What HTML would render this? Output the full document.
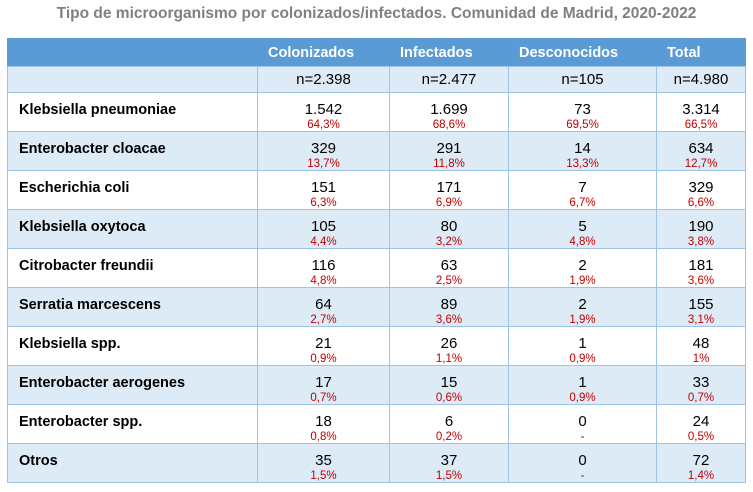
<!DOCTYPE html>
<html><head><meta charset="utf-8"><style>
body{margin:0;width:753px;height:492px;background:#fff;font-family:"Liberation Sans",Arial,sans-serif;position:relative;overflow:hidden}
.title{position:absolute;top:5px;left:0;width:753px;text-align:center;color:#808080;font-weight:bold;font-size:15.5px}
table{position:absolute;left:7px;top:38px;border-collapse:collapse;table-layout:fixed;width:738px}
td{border:1px solid #9dc3e6;padding:0;font-size:15px;color:#000;overflow:hidden}
tr.h td{background:#5b9bd5;color:#fff;font-weight:bold;font-size:14.5px;height:27px;border-color:#5b9bd5;padding-left:10px;border-bottom:1px solid #9dc3e6}
tr.n td{background:#ddebf7;height:25px;text-align:center}
tr.d td{height:38px;vertical-align:top;text-align:center}
tr.d td.nm{text-align:left;font-weight:bold;font-size:14.5px;padding:9px 0 0 11px;height:29px}
tr.a td{background:#ddebf7}
.v{display:block;padding-top:8px;line-height:17px;height:26px;box-sizing:border-box}
.p{display:block;color:#c00000;font-size:11.5px;line-height:12px;height:12px}
</style></head><body>
<div class="title">Tipo de microorganismo por colonizados/infectados. Comunidad de Madrid, 2020-2022</div>
<table>
<colgroup><col style="width:250px"><col style="width:132px"><col style="width:119px"><col style="width:148px"><col style="width:89px"></colgroup>
<tr class="h"><td></td><td>Colonizados</td><td>Infectados</td><td>Desconocidos</td><td>Total</td></tr>
<tr class="n"><td></td><td>n=2.398</td><td>n=2.477</td><td>n=105</td><td>n=4.980</td></tr>
<tr class="d"><td class="nm">Klebsiella pneumoniae</td><td><span class="v">1.542</span><span class="p">64,3%</span></td><td><span class="v">1.699</span><span class="p">68,6%</span></td><td><span class="v">73</span><span class="p">69,5%</span></td><td><span class="v">3.314</span><span class="p">66,5%</span></td></tr>
<tr class="d a"><td class="nm">Enterobacter cloacae</td><td><span class="v">329</span><span class="p">13,7%</span></td><td><span class="v">291</span><span class="p">11,8%</span></td><td><span class="v">14</span><span class="p">13,3%</span></td><td><span class="v">634</span><span class="p">12,7%</span></td></tr>
<tr class="d"><td class="nm">Escherichia coli</td><td><span class="v">151</span><span class="p">6,3%</span></td><td><span class="v">171</span><span class="p">6,9%</span></td><td><span class="v">7</span><span class="p">6,7%</span></td><td><span class="v">329</span><span class="p">6,6%</span></td></tr>
<tr class="d a"><td class="nm">Klebsiella oxytoca</td><td><span class="v">105</span><span class="p">4,4%</span></td><td><span class="v">80</span><span class="p">3,2%</span></td><td><span class="v">5</span><span class="p">4,8%</span></td><td><span class="v">190</span><span class="p">3,8%</span></td></tr>
<tr class="d"><td class="nm">Citrobacter freundii</td><td><span class="v">116</span><span class="p">4,8%</span></td><td><span class="v">63</span><span class="p">2,5%</span></td><td><span class="v">2</span><span class="p">1,9%</span></td><td><span class="v">181</span><span class="p">3,6%</span></td></tr>
<tr class="d a"><td class="nm">Serratia marcescens</td><td><span class="v">64</span><span class="p">2,7%</span></td><td><span class="v">89</span><span class="p">3,6%</span></td><td><span class="v">2</span><span class="p">1,9%</span></td><td><span class="v">155</span><span class="p">3,1%</span></td></tr>
<tr class="d"><td class="nm">Klebsiella spp.</td><td><span class="v">21</span><span class="p">0,9%</span></td><td><span class="v">26</span><span class="p">1,1%</span></td><td><span class="v">1</span><span class="p">0,9%</span></td><td><span class="v">48</span><span class="p">1%</span></td></tr>
<tr class="d a"><td class="nm">Enterobacter aerogenes</td><td><span class="v">17</span><span class="p">0,7%</span></td><td><span class="v">15</span><span class="p">0,6%</span></td><td><span class="v">1</span><span class="p">0,9%</span></td><td><span class="v">33</span><span class="p">0,7%</span></td></tr>
<tr class="d"><td class="nm">Enterobacter spp.</td><td><span class="v">18</span><span class="p">0,8%</span></td><td><span class="v">6</span><span class="p">0,2%</span></td><td><span class="v">0</span><span class="p">-</span></td><td><span class="v">24</span><span class="p">0,5%</span></td></tr>
<tr class="d a"><td class="nm">Otros</td><td><span class="v">35</span><span class="p">1,5%</span></td><td><span class="v">37</span><span class="p">1,5%</span></td><td><span class="v">0</span><span class="p">-</span></td><td><span class="v">72</span><span class="p">1,4%</span></td></tr>
</table>
</body></html>
